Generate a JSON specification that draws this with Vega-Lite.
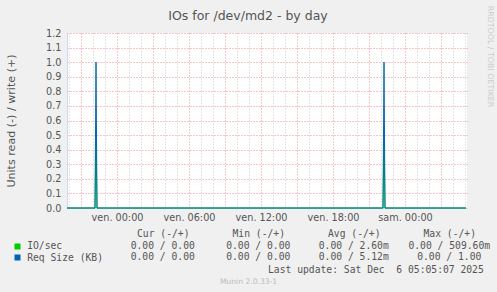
{
  "$schema": "https://vega.github.io/schema/vega-lite/v6.json",
  "width": 400,
  "height": 175,
  "autosize": {"type": "none"},
  "padding": {"left": 67, "top": 33, "right": 30, "bottom": 84},
  "background": "#f0f0f0",
  "config": {"view": {"fill": "white", "stroke": null}, "font": "DejaVu Sans"},
  "title": {"text": "IOs for /dev/md2 - by day", "font": "DejaVu Sans", "fontSize": 12.5, "fontWeight": "normal", "color": "#555555", "anchor": "middle", "frame": "group", "dx": -19, "offset": 0, "baseline": "alphabetic", "dy": 27.5},
  "layer": [
    {
      "data": {"values": [
        {"t": "2025-12-04T19:50:00Z", "series": "IO/sec", "value": 0},
        {"t": "2025-12-04T22:10:00Z", "series": "IO/sec", "value": 0},
        {"t": "2025-12-04T22:15:00Z", "series": "IO/sec", "value": 0.51},
        {"t": "2025-12-04T22:20:00Z", "series": "IO/sec", "value": 0},
        {"t": "2025-12-05T22:10:00Z", "series": "IO/sec", "value": 0},
        {"t": "2025-12-05T22:15:00Z", "series": "IO/sec", "value": 0.51},
        {"t": "2025-12-05T22:20:00Z", "series": "IO/sec", "value": 0},
        {"t": "2025-12-06T05:05:00Z", "series": "IO/sec", "value": 0},
        {"t": "2025-12-04T19:50:00Z", "series": "Req Size (KB)", "value": 0},
        {"t": "2025-12-04T22:10:00Z", "series": "Req Size (KB)", "value": 0},
        {"t": "2025-12-04T22:15:00Z", "series": "Req Size (KB)", "value": 1.0},
        {"t": "2025-12-04T22:20:00Z", "series": "Req Size (KB)", "value": 0},
        {"t": "2025-12-05T22:10:00Z", "series": "Req Size (KB)", "value": 0},
        {"t": "2025-12-05T22:15:00Z", "series": "Req Size (KB)", "value": 1.0},
        {"t": "2025-12-05T22:20:00Z", "series": "Req Size (KB)", "value": 0},
        {"t": "2025-12-06T05:05:00Z", "series": "Req Size (KB)", "value": 0}
      ]},
      "encoding": {
        "x": {"field": "t", "type": "temporal",
          "scale": {"type": "utc", "domain": [
            {"year": 2025, "month": 12, "date": 4, "hours": 19, "minutes": 50, "utc": true},
            {"year": 2025, "month": 12, "date": 6, "hours": 5, "minutes": 10, "utc": true}]},
          "axis": {"orient": "bottom", "title": "Munin 2.0.33-1",
            "tickCount": 34,
            "labelExpr": "utchours(datum.value) % 6 == 0 ? (utcday(datum.value) == 5 ? 'ven. ' : utcday(datum.value) == 6 ? 'sam. ' : utcday(datum.value) == 4 ? 'jeu. ' : '') + utcFormat(datum.value, '%H:%M') : ''",
            "labelFlush": false, "labelOverlap": false, "labelBound": false,
            "labelFont": "DejaVu Sans", "labelFontSize": 9.7, "labelColor": "#555555", "labelPadding": 4,
            "ticks": false, "domainColor": "#CFD6F8",
            "gridColor": {"condition": {"test": "utchours(datum.value) % 3 == 0", "value": "#f08c8c"}, "value": "#c8c8c8"},
            "gridDash": [1, 2],
            "titleFont": "DejaVu Sans", "titleFontSize": 7.6, "titleFontWeight": "normal", "titleColor": "#bbbbbb",
            "titleX": 181, "titleY": 75.5, "titleBaseline": "alphabetic", "titleAlign": "center"}
        },
        "color": {"field": "series", "type": "nominal", "scale": {"domain": ["IO/sec", "Req Size (KB)"], "range": ["#00cc00", "#0066b3"]}, "legend": null}
      },
      "layer": [
        {
          "transform": [{"filter": "datum.series == 'IO/sec'"}],
          "mark": {"type": "line", "strokeWidth": 1},
          "encoding": {
            "y": {"field": "value", "type": "quantitative", "scale": {"domain": [0, 1.2], "nice": false},
              "axis": {"orient": "left", "title": "Units read (-) / write (+)",
                "values": [0, 0.1, 0.2, 0.3, 0.4, 0.5, 0.6, 0.7, 0.8, 0.9, 1.0, 1.1, 1.2], "format": ".1f",
                "labelFont": "DejaVu Sans", "labelFontSize": 9.7, "labelColor": "#555555", "labelPadding": 6,
                "ticks": false, "domainColor": "#CFD6F8", "gridColor": "#f08c8c", "gridDash": [1, 2],
                "titleFont": "DejaVu Sans", "titleFontSize": 11.1, "titleFontWeight": "normal", "titleColor": "#555555", "titlePadding": 29}}
          }
        },
        {
          "transform": [{"filter": "datum.series == 'Req Size (KB)'"}],
          "mark": {"type": "line", "strokeWidth": 1},
          "encoding": {
            "y": {"field": "value", "type": "quantitative", "scale": {"domain": [0, 1.2], "nice": false},
              "axis": {"orient": "right", "title": "RRDTOOL / TOBI OETIKER", "labels": false, "ticks": false, "domain": false, "grid": false,
                "titleAngle": 90, "titleX": 22, "titleY": 23, "titleAlign": "center", "titleBaseline": "middle",
                "titleFont": "DejaVu Sans", "titleFontSize": 7.9, "titleFontWeight": "normal", "titleColor": "#cccccc"}}
          }
        }
      ],
      "resolve": {"axis": {"y": "independent"}}
    },
    {
      "data": {"values": [
        {"series": "IO/sec", "stat": "Cur (-/+)", "value": "0.00 / 0.00"},
        {"series": "IO/sec", "stat": "Min (-/+)", "value": "0.00 / 0.00"},
        {"series": "IO/sec", "stat": "Avg (-/+)", "value": "0.00 / 2.60m"},
        {"series": "IO/sec", "stat": "Max (-/+)", "value": "0.00 / 509.60m"},
        {"series": "Req Size (KB)", "stat": "Cur (-/+)", "value": "0.00 / 0.00"},
        {"series": "Req Size (KB)", "stat": "Min (-/+)", "value": "0.00 / 0.00"},
        {"series": "Req Size (KB)", "stat": "Avg (-/+)", "value": "0.00 / 5.12m"},
        {"series": "Req Size (KB)", "stat": "Max (-/+)", "value": "0.00 / 1.00"}
      ]},
      "mark": {"type": "text", "align": "center", "baseline": "middle", "font": "DejaVu Sans Mono", "fontSize": 9.7, "color": "#555555"},
      "encoding": {
        "x": {"field": "stat", "type": "ordinal",
          "scale": {"type": "point", "domain": ["Cur (-/+)", "Min (-/+)", "Avg (-/+)", "Max (-/+)"], "range": [62, 416], "padding": 0.353},
          "axis": {"orient": "bottom", "offset": 25, "ticks": false, "domain": false, "grid": false, "labelPadding": 0, "labelBaseline": "middle", "labelAngle": 0,
            "labelFont": "DejaVu Sans Mono", "labelFontSize": 9.7, "labelColor": "#555555",
            "title": "Last update: Sat Dec\u00a0 6 05:05:07 2025", "titleX": 416.3, "titleY": 39.5, "titleAlign": "right", "titleBaseline": "alphabetic",
            "titleFont": "DejaVu Sans Mono", "titleFontSize": 9.7, "titleFontWeight": "normal", "titleColor": "#555555"}},
        "y": {"field": "series", "type": "ordinal",
          "scale": {"type": "point", "domain": ["IO/sec", "Req Size (KB)"], "range": [212.5, 224.3], "padding": 0},
          "axis": {"orient": "left", "offset": 47, "domain": false, "grid": false, "title": null,
            "tickSize": 6, "tickWidth": 6,
            "tickColor": {"condition": {"test": "datum.value == 'IO/sec'", "value": "#00cc00"}, "value": "#0066b3"},
            "labelAlign": "left", "labelPadding": -12.7, "labelBaseline": "middle",
            "labelFont": "DejaVu Sans Mono", "labelFontSize": 9.7, "labelColor": "#555555"}},
        "text": {"field": "value", "type": "nominal"}
      }
    }
  ],
  "resolve": {"scale": {"x": "independent", "y": "independent", "color": "independent"}, "axis": {"x": "independent", "y": "independent"}}
}
